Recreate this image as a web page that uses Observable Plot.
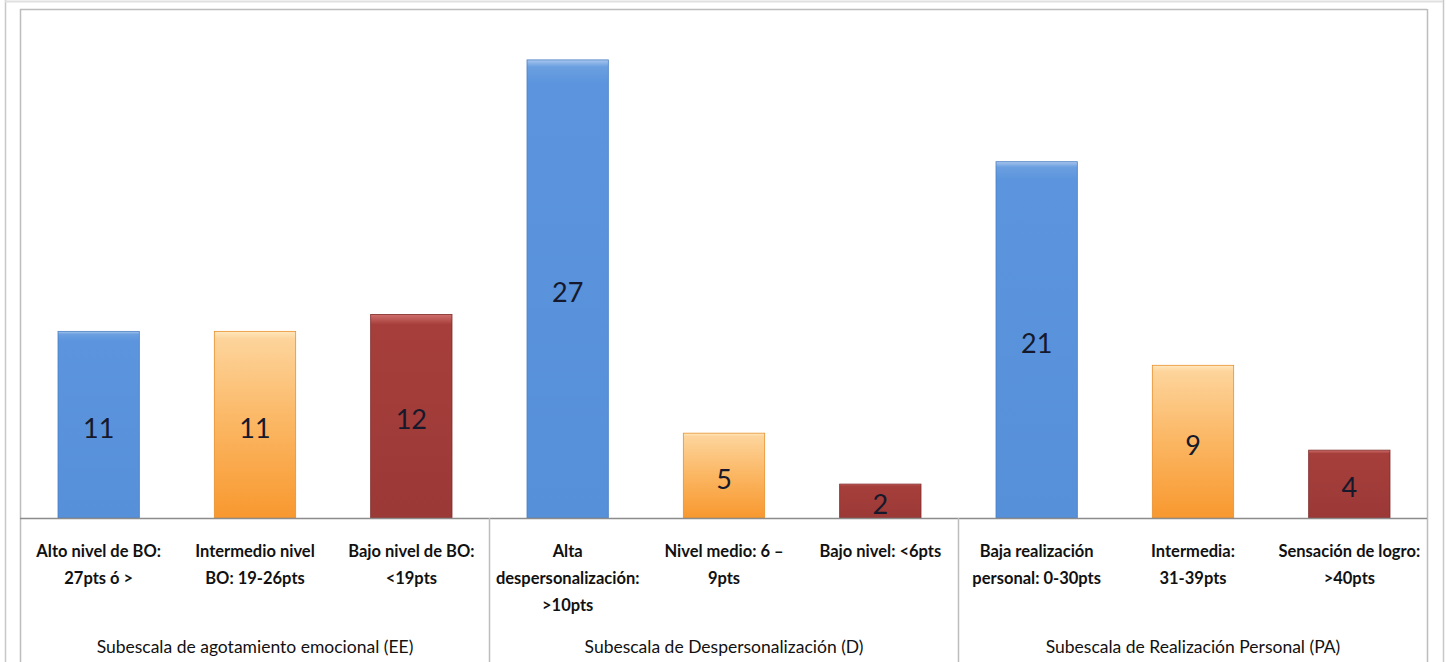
<!DOCTYPE html>
<html>
<head>
<meta charset="utf-8">
<script src="https://cdn.jsdelivr.net/npm/d3@7"></script>
<script src="https://cdn.jsdelivr.net/npm/@observablehq/plot@0.6"></script>
<style>
  html, body { margin: 0; padding: 0; background: #fff; }
  #chart svg { display: block; }
</style>
</head>
<body>
<div id="chart"></div>
<script>
// ---- data ----
const categories = [
  "Alto nivel de BO:\n27pts ó >",
  "Intermedio nivel\nBO: 19-26pts",
  "Bajo nivel de BO:\n<19pts",
  "Alta\ndespersonalización:\n>10pts",
  "Nivel medio: 6 –\n9pts",
  "Bajo nivel: <6pts",
  "Baja realización\npersonal: 0-30pts",
  "Intermedia:\n31-39pts",
  "Sensación de logro:\n>40pts"
];
const values = [11, 11, 12, 27, 5, 2, 21, 9, 4];
const levels = ["alto", "medio", "bajo", "alto", "medio", "bajo", "alto", "medio", "bajo"];
const groups = [
  "Subescala de agotamiento emocional (EE)",
  "Subescala de Despersonalización (D)",
  "Subescala de Realización Personal (PA)"
];
const levelFill = {alto: "url(#gBlue)", medio: "url(#gOrange)", bajo: "url(#gRed)"};
const levelStroke = {alto: "#4a7fc4", medio: "#e8902c", bajo: "#7f2b29"};

const data = categories.map((c, i) => ({i, label: c, value: values[i], level: levels[i]}));
const groupData = groups.map((g, k) => ({k, label: g}));

const chart = Plot.plot({
  width: 1447,
  height: 662,
  marginLeft: 20,
  marginRight: 20,
  marginTop: 9,
  marginBottom: 144,
  style: {fontFamily: "Lato, 'Open Sans', sans-serif", background: "#fff"},
  x: {type: "linear", domain: [0, categories.length], axis: null},
  y: {domain: [0, 30], axis: null},
  color: {type: "identity"},
  marks: [
    // outer chart frame
    Plot.ruleX([0], {stroke: "#c8c8c8", strokeWidth: 1.5, dx: -15, insetTop: -9, insetBottom: -144}),
    Plot.ruleX([categories.length], {stroke: "#c8c8c8", strokeWidth: 1.5, dx: 16, insetTop: -9, insetBottom: -144}),
    Plot.ruleY([30], {stroke: "#e0e0e0", strokeWidth: 2, dy: -8, insetLeft: -15, insetRight: -16}),
    // plot area frame
    Plot.ruleY([30], {stroke: "#bdbdbd", strokeWidth: 1.5}),
    Plot.ruleX([0, categories.length], {stroke: "#bdbdbd", strokeWidth: 1.5, insetBottom: -144}),
    // bars
    Plot.rectY(data, {
      x1: d => d.i, x2: d => d.i + 1, y: "value",
      fill: d => levelFill[d.level],
      stroke: d => levelStroke[d.level],
      strokeWidth: 0.8,
      insetLeft: 38, insetRight: 37
    }),
    // value labels
    Plot.text(data, {
      x: d => d.i + 0.5, y: d => d.value / 2, text: d => String(d.value),
      fontSize: 27, fill: "#15192b", lineAnchor: "middle", dy: 4
    }),
    // baseline & group separators
    Plot.ruleY([0], {stroke: "#8c8c8c", strokeWidth: 1.5}),
    Plot.ruleX([3, 6], {y1: 0, y2: 0, stroke: "#bdbdbd", strokeWidth: 1.5, insetBottom: -144}),
    // category labels
    Plot.text(data, {
      x: d => d.i + 0.5, y: 0, text: "label",
      lineAnchor: "top", dy: 19, fontSize: 16.5, fontWeight: "bold",
      lineHeight: 1.64, fill: "#111"
    }),
    // group labels
    Plot.text(groupData, {
      x: d => d.k * 3 + 1.5, y: 0, text: "label",
      lineAnchor: "middle", dy: 129, fontSize: 17.5, fill: "#111"
    })
  ]
});

// gradients for the bars
const svg = d3.select(chart);
const defs = svg.insert("defs", ":first-child");
function grad(id, stops) {
  const g = defs.append("linearGradient").attr("id", id)
    .attr("x1", 0).attr("y1", 0).attr("x2", 0).attr("y2", 1);
  stops.forEach(([o, c]) => g.append("stop").attr("offset", o).attr("stop-color", c));
}
grad("gBlue", [["0", "#a9c6ee"], ["0.015", "#6b9fe0"], ["0.05", "#5c95dd"], ["1", "#5690d8"]]);
grad("gOrange", [["0", "#ffe7bd"], ["0.04", "#fdd49b"], ["0.5", "#fbb662"], ["1", "#f8982f"]]);
grad("gRed", [["0", "#d06f6c"], ["0.05", "#a63f3c"], ["1", "#9b3936"]]);

document.getElementById("chart").appendChild(chart);
</script>
</body>
</html>
